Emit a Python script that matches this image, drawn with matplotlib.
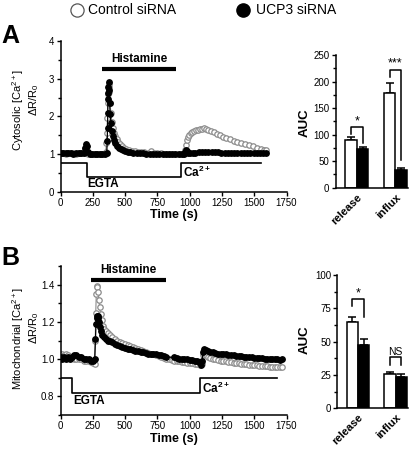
import numpy as np
import matplotlib
matplotlib.use('Agg')
import matplotlib.pyplot as plt
from matplotlib.lines import Line2D
from matplotlib.ticker import MultipleLocator

plt.rcParams['font.family'] = ['Liberation Sans', 'DejaVu Sans']
plt.rcParams['mathtext.fontset'] = 'custom'
plt.rcParams['mathtext.rm'] = 'Liberation Sans'
plt.rcParams['mathtext.bf'] = 'Liberation Sans:bold'

# ---- Panel A traces: cytosolic Ca2+ ----
t_a_ucp3 = [0, 20, 40, 60, 80, 100, 120, 140, 160, 180,
            188, 195, 202, 210, 225, 245, 265, 285, 305, 325,
            345, 358, 362, 364, 366, 367, 368, 370, 372, 376,
            380, 385, 391, 398, 406, 415, 425, 437, 450, 465,
            482, 500, 520, 540, 565, 590, 615, 640, 665, 690,
            715, 740, 765, 790, 815, 840, 865, 890, 915, 940,
            955, 965, 972, 980, 990, 1005, 1025, 1045, 1070, 1095,
            1120, 1145, 1170, 1195, 1220, 1245, 1270, 1295, 1320, 1345,
            1370, 1395, 1420, 1445, 1470, 1495, 1520, 1545, 1570, 1595]
y_a_ucp3 = [1.03, 1.02, 1.04, 1.02, 1.03, 1.01, 1.03, 1.02, 1.02, 1.04,
            1.15, 1.27, 1.20, 1.06, 1.01, 0.99, 1.00, 1.01, 0.99, 1.00,
            1.00, 1.02, 1.35, 1.70, 2.10, 2.45, 2.62, 2.78, 2.92, 2.70,
            2.35, 2.05, 1.82, 1.62, 1.48, 1.37, 1.29, 1.22, 1.17, 1.13,
            1.10, 1.08, 1.06, 1.05, 1.04, 1.03, 1.02, 1.02, 1.01, 1.01,
            1.00, 1.00, 1.01, 1.00, 1.00, 0.99, 1.00, 1.00, 0.99, 0.99,
            1.00, 1.05, 1.10, 1.08, 1.04, 1.02, 1.03, 1.04, 1.05, 1.05,
            1.06, 1.06, 1.05, 1.05, 1.05, 1.04, 1.04, 1.04, 1.03, 1.03,
            1.03, 1.03, 1.02, 1.02, 1.02, 1.02, 1.02, 1.02, 1.02, 1.02]

t_a_ctrl = [0, 20, 40, 60, 80, 100, 120, 140, 160, 180,
            190, 197, 205, 215, 235, 255, 275, 295, 315, 335,
            350, 356, 360, 363, 366, 369, 372, 375, 379, 384,
            390, 397, 405, 414, 424, 435, 447, 460, 475, 492,
            510, 530, 552, 575, 600, 625, 650, 675, 700, 725,
            750, 775, 800, 825, 850, 875, 900, 925, 945, 955,
            962, 970, 978, 987, 997, 1008, 1020, 1035, 1050, 1065,
            1080, 1095, 1110, 1125, 1145, 1165, 1185, 1210, 1235, 1260,
            1285, 1310, 1340, 1370, 1400, 1430, 1460, 1490, 1520, 1550,
            1575, 1595]
y_a_ctrl = [1.02, 1.03, 1.01, 1.03, 1.02, 1.02, 1.01, 1.03, 1.02, 1.03,
            1.15, 1.22, 1.08, 1.01, 1.00, 0.99, 1.00, 1.01, 1.00, 1.01,
            1.05, 1.30, 1.55, 1.95, 2.35, 2.60, 2.78, 2.85, 2.65, 2.35,
            2.08, 1.85, 1.68, 1.57, 1.47, 1.39, 1.32, 1.26, 1.21, 1.17,
            1.14, 1.11, 1.09, 1.07, 1.06, 1.05, 1.06, 1.04, 1.09, 1.03,
            1.02, 1.02, 1.01, 1.01, 1.00, 1.00, 1.00, 0.99, 1.00, 1.03,
            1.12, 1.25, 1.36, 1.45, 1.51, 1.55, 1.58, 1.61, 1.63, 1.65,
            1.66, 1.67, 1.68, 1.67, 1.65, 1.62, 1.58, 1.54, 1.50, 1.46,
            1.42, 1.39, 1.35, 1.32, 1.29, 1.26, 1.23, 1.20, 1.17, 1.14,
            1.12, 1.10]

# ---- Panel B traces: mitochondrial Ca2+ ----
t_b_ucp3 = [0, 15, 30, 45, 60, 75, 90, 105, 120, 140,
            160, 180, 200, 220, 240, 255, 265, 271, 275, 279,
            283, 288, 294, 300, 307, 315, 325, 337, 350, 365,
            380, 400, 420, 440, 460, 480, 500, 520, 540, 560,
            580, 600, 620, 640, 660, 680, 700, 720, 740, 760,
            780, 800, 820, 880, 900, 920, 940, 960, 980, 1000,
            1020, 1040, 1060, 1075, 1085, 1095, 1105, 1115, 1125, 1140,
            1160, 1180, 1200, 1220, 1240, 1260, 1280, 1300, 1320, 1340,
            1360, 1380, 1400, 1420, 1440, 1460, 1480, 1500, 1520, 1540,
            1560, 1580, 1600, 1620, 1640, 1660, 1680, 1700, 1713]
y_b_ucp3 = [1.01, 1.00, 1.01, 1.00, 1.01, 1.00, 1.01, 1.02, 1.02, 1.01,
            1.01, 1.00, 1.00, 1.00, 0.99, 0.99, 1.00, 1.11, 1.19, 1.22,
            1.23, 1.23, 1.22, 1.20, 1.17, 1.15, 1.13, 1.12, 1.11, 1.10,
            1.095, 1.09, 1.08, 1.075, 1.07, 1.065, 1.06, 1.055, 1.055, 1.05,
            1.045, 1.045, 1.04, 1.04, 1.035, 1.03, 1.03, 1.025, 1.025, 1.02,
            1.02, 1.015, 1.01, 1.01, 1.005, 1.00, 1.00, 1.00, 1.00, 0.995,
            0.995, 0.99, 0.99, 0.985, 0.97, 0.99, 1.04, 1.055, 1.05, 1.045,
            1.04, 1.04, 1.035, 1.03, 1.03, 1.025, 1.025, 1.02, 1.02, 1.02,
            1.015, 1.015, 1.015, 1.01, 1.01, 1.01, 1.01, 1.005, 1.005, 1.005,
            1.005, 1.00, 1.00, 1.00, 1.00, 1.00, 1.00, 0.995, 1.00]

t_b_ctrl = [0, 15, 30, 45, 60, 75, 90, 105, 120, 140,
            160, 180, 200, 220, 240, 255, 264, 269, 273, 277,
            281, 286, 291, 297, 303, 310, 318, 328, 340, 355,
            370, 385, 400, 420, 440, 460, 480, 500, 520, 540,
            560, 580, 600, 620, 640, 660, 680, 700, 720, 740,
            760, 780, 800, 820, 840, 860, 880, 900, 920, 940,
            960, 980, 1000, 1020, 1040, 1060, 1080, 1095, 1105, 1115,
            1125, 1140, 1160, 1180, 1200, 1220, 1240, 1260, 1280, 1300,
            1320, 1340, 1360, 1380, 1400, 1420, 1440, 1460, 1480, 1500,
            1520, 1540, 1560, 1580, 1600, 1620, 1640, 1660, 1680, 1700,
            1713]
y_b_ctrl = [1.02, 1.03, 1.02, 1.03, 1.02, 1.01, 1.01, 1.00, 1.00, 1.00,
            1.00, 0.99, 0.99, 0.99, 0.985, 0.98, 0.975, 1.10, 1.25, 1.35,
            1.39, 1.385, 1.36, 1.32, 1.28, 1.24, 1.21, 1.18, 1.16, 1.15,
            1.14, 1.13, 1.12, 1.11, 1.10, 1.09, 1.085, 1.08, 1.075, 1.07,
            1.065, 1.06, 1.055, 1.05, 1.045, 1.04, 1.035, 1.03, 1.025, 1.02,
            1.015, 1.01, 1.005, 1.00, 1.00, 0.995, 0.99, 0.99, 0.99, 0.985,
            0.985, 0.98, 0.98, 0.98, 0.975, 0.975, 0.97, 0.975, 1.02, 1.03,
            1.02, 1.01, 1.005, 1.00, 1.00, 0.995, 0.99, 0.99, 0.99, 0.985,
            0.985, 0.98, 0.98, 0.98, 0.975, 0.975, 0.975, 0.97, 0.97, 0.97,
            0.97, 0.965, 0.965, 0.965, 0.965, 0.96, 0.96, 0.96, 0.96, 0.96,
            0.96]

# protocol (EGTA -> Ca2+) and histamine bars
prot_a_t = [0, 203, 203, 933, 933, 1550]
prot_a_y = [0.75, 0.75, 0.40, 0.40, 0.75, 0.75]
hist_a_t = [319, 895]
prot_b_t = [0, 87, 87, 1081, 1081, 1675]
prot_b_y = [0.90, 0.90, 0.82, 0.82, 0.90, 0.90]
hist_b_t = [236, 817]

# ---- AUC bars ----
categories = ['release', 'influx']
auc_a_ctrl = [89, 179]
auc_a_ctrl_err = [6, 18]
auc_a_ucp3 = [73, 33]
auc_a_ucp3_err = [4, 5]
auc_b_ctrl = [64.5, 25.5]
auc_b_ctrl_err = [4.3, 2.0]
auc_b_ucp3 = [47.5, 23.8]
auc_b_ucp3_err = [4.5, 2.0]

W, H = 416, 449
fig = plt.figure(figsize=(W / 100, H / 100), dpi=100)


def px_axes(left, top, right, bottom):
    return fig.add_axes([left / W, 1 - bottom / H, (right - left) / W, (bottom - top) / H])


def style(ax):
    for s in ['top', 'right']:
        ax.spines[s].set_visible(False)
    for s in ['left', 'bottom']:
        ax.spines[s].set_linewidth(1.1)
    ax.tick_params(which='both', direction='out', width=1.0, labelsize=7, pad=1.5)
    ax.tick_params(which='major', length=3)
    ax.tick_params(which='minor', length=2)


def trace(ax, t_c, y_c, t_u, y_u):
    ax.plot(t_c, y_c, 'o-', color='#8c8c8c', lw=0.8, ms=3.9, mfc='white', mec='#8c8c8c', mew=0.9, zorder=2)
    ax.plot(t_u, y_u, 'o-', color='black', ms=3.9, lw=0.9, zorder=3)


def ylabel2(line1, yc1, yc2):
    fig.text(18 / W, 1 - yc1 / H, line1, rotation=90, ha='center', va='center', fontsize=8)
    fig.text(34.5 / W, 1 - yc2 / H, r'$\Delta$R/R$_0$', rotation=90, ha='center', va='center', fontsize=8)


# Panel A trace
axA = px_axes(60.5, 41, 286.5, 191.7)
style(axA)
trace(axA, t_a_ctrl, y_a_ctrl, t_a_ucp3, y_a_ucp3)
axA.plot(prot_a_t, prot_a_y, color='black', lw=1.2)
axA.plot(hist_a_t, [3.25, 3.25], color='black', lw=3, solid_capstyle='butt')
axA.text(np.mean(hist_a_t), 3.36, 'Histamine', ha='center', va='bottom', fontsize=8.5, fontweight='bold')
axA.text(207, 0.2, 'EGTA', ha='left', va='center', fontsize=8.5, fontweight='bold')
axA.text(945, 0.52, r'$\mathbf{Ca^{2+}}$', ha='left', va='center', fontsize=8.5)
axA.set_xlim(0, 1750)
axA.set_ylim(0, 4)
axA.set_xticks(np.arange(0, 1751, 250))
axA.set_yticks([0, 1, 2, 3, 4])
axA.yaxis.set_minor_locator(MultipleLocator(0.5))
axA.set_xlabel('Time (s)', fontsize=9, fontweight='bold', labelpad=1)
ylabel2('Cytosolic [Ca$^{2+}$]', 110, 100)

# Panel B trace
axB = px_axes(60.5, 266, 286.5, 415)
style(axB)
trace(axB, t_b_ctrl, y_b_ctrl, t_b_ucp3, y_b_ucp3)
axB.plot(prot_b_t, prot_b_y, color='black', lw=1.2)
axB.plot(hist_b_t, [1.425, 1.425], color='black', lw=3, solid_capstyle='butt')
axB.text(np.mean(hist_b_t), 1.445, 'Histamine', ha='center', va='bottom', fontsize=8.5, fontweight='bold')
axB.text(95, 0.775, 'EGTA', ha='left', va='center', fontsize=8.5, fontweight='bold')
axB.text(1095, 0.845, r'$\mathbf{Ca^{2+}}$', ha='left', va='center', fontsize=8.5)
axB.set_xlim(0, 1750)
axB.set_ylim(0.7, 1.5)
axB.set_xticks(np.arange(0, 1751, 250))
axB.set_yticks([0.8, 1.0, 1.2, 1.4])
axB.set_yticklabels(['0.8', '1.0', '1.2', '1.4'])
axB.yaxis.set_minor_locator(MultipleLocator(0.1))
axB.set_xlabel('Time (s)', fontsize=9, fontweight='bold', labelpad=1)
ylabel2('Mitochondrial [Ca$^{2+}$]', 338, 328)


def bars(ax, ctrl, ctrl_err, ucp3, ucp3_err):
    x = np.arange(len(categories))
    w = 0.3
    ax.bar(x - w / 2, ctrl, w, color='white', edgecolor='black', lw=1.1, zorder=2)
    ax.bar(x + w / 2, ucp3, w, color='black', edgecolor='black', lw=1.1, zorder=2)
    ax.errorbar(x - w / 2, ctrl, yerr=[np.zeros(len(ctrl)), ctrl_err], fmt='none',
                ecolor='black', elinewidth=1.1, capsize=3, capthick=1.1, zorder=1)
    ax.errorbar(x + w / 2, ucp3, yerr=[np.zeros(len(ucp3)), ucp3_err], fmt='none',
                ecolor='black', elinewidth=1.1, capsize=3, capthick=1.1, zorder=1)
    ax.set_xlim(-0.55, 1.33)
    ax.set_xticks(x)
    ax.set_xticklabels(categories, rotation=45, ha='right', rotation_mode='anchor',
                       fontsize=8, fontweight='bold')
    ax.tick_params(axis='x', length=0, pad=3)


def bracket(ax, x0, x1, ytop, y0, y1, label, fs=9):
    ax.plot([x0, x0, x1, x1], [y0, ytop, ytop, y1], color='black', lw=1.1)
    ax.text((x0 + x1) / 2, ytop, label, ha='center', va='bottom', fontsize=fs)


axAb = px_axes(335.7, 55, 408, 187.7)
style(axAb)
bars(axAb, auc_a_ctrl, auc_a_ctrl_err, auc_a_ucp3, auc_a_ucp3_err)
axAb.set_ylim(0, 250)
axAb.set_yticks(np.arange(0, 251, 50))
axAb.yaxis.set_minor_locator(MultipleLocator(25))
bracket(axAb, -0.15, 0.15, 114, 102, 85, '*')
bracket(axAb, 0.85, 1.15, 222, 209, 52, '***')
fig.text(305 / W, 1 - 123 / H, 'AUC', rotation=90, ha='center', va='center', fontsize=9.5, fontweight='bold')

axBb = px_axes(337.3, 275, 408, 408.3)
style(axBb)
bars(axBb, auc_b_ctrl, auc_b_ctrl_err, auc_b_ucp3, auc_b_ucp3_err)
axBb.set_ylim(0, 100)
axBb.set_yticks(np.arange(0, 101, 25))
axBb.yaxis.set_minor_locator(MultipleLocator(12.5))
bracket(axBb, -0.15, 0.15, 81.75, 76.75, 68.25, '*')
bracket(axBb, 0.85, 1.15, 38.25, 32.5, 32.5, 'NS', fs=7.5)
fig.text(305 / W, 1 - 340 / H, 'AUC', rotation=90, ha='center', va='center', fontsize=9.5, fontweight='bold')

# panel letters
fig.text(1 / W, 1 - 43 / H, 'A', fontsize=18, fontweight='bold', va='baseline')
fig.text(1 / W, 1 - 265 / H, 'B', fontsize=18, fontweight='bold', va='baseline')

# legend at top
fig.add_artist(Line2D([76.5 / W], [1 - 10 / H], marker='o', ms=9.5, mfc='white', mec='#555555', mew=0.9,
                      transform=fig.transFigure))
fig.text(88 / W, 1 - 10.5 / H, 'Control siRNA', fontsize=10, va='center', ha='left')
fig.add_artist(Line2D([242.5 / W], [1 - 10 / H], marker='o', ms=9.5, mfc='black', mec='black',
                      transform=fig.transFigure))
fig.text(256 / W, 1 - 10.5 / H, 'UCP3 siRNA', fontsize=10, va='center', ha='left')

fig.savefig('out.png', dpi=100)
